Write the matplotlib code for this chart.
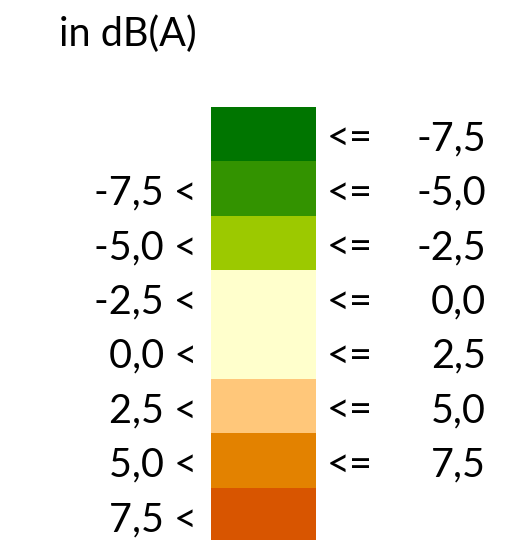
import matplotlib.pyplot as plt
from matplotlib.patches import Rectangle

plt.rcParams["font.family"] = ["Lato", "DejaVu Sans"]

# legend classes (dB(A) differences)
lower_labels = ["", "-7,5", "-5,0", "-2,5", "0,0", "2,5", "5,0", "7,5"]
upper_labels = ["-7,5", "-5,0", "-2,5", "0,0", "2,5", "5,0", "7,5", ""]
class_colors = ["#007500", "#339300", "#9CC900", "#FFFFCC",
                "#FFFFCC", "#FFC77A", "#E38200", "#D85500"]
title = "in dB(A)"

W, H = 509, 540
fig = plt.figure(figsize=(W / 100, H / 100), dpi=100)
ax = fig.add_axes([0, 0, 1, 1])
ax.set_xlim(0, W)
ax.set_ylim(H, 0)
ax.axis("off")

# layout in pixel units
box_left, box_width = 211, 105
top, cell_h = 107, 54.4
fs = 28.5

for i, color in enumerate(class_colors):
    y0 = top + i * cell_h
    ax.add_patch(Rectangle((box_left, y0), box_width, cell_h,
                           facecolor=color, edgecolor="none"))
    base = y0 + cell_h / 2 + 16
    if lower_labels[i]:
        ax.text(197, base, f"{lower_labels[i]} <", ha="right",
                va="baseline", fontsize=fs)
    if upper_labels[i]:
        ax.text(327, base, "<=", ha="left", va="baseline", fontsize=fs)
        ax.text(486, base, upper_labels[i], ha="right",
                va="baseline", fontsize=fs)

ax.text(59, 46, title, ha="left", va="baseline", fontsize=fs)

fig.savefig("out.png", dpi=100)
